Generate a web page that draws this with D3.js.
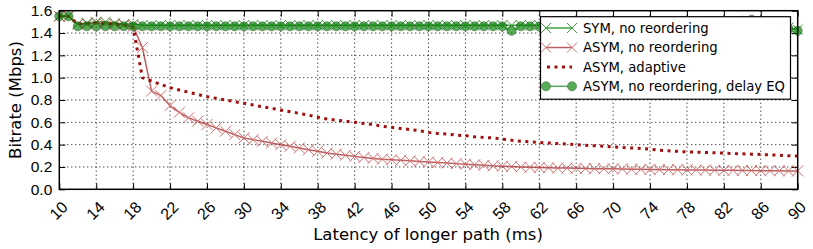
<!DOCTYPE html>
<html>
<head>
<meta charset="utf-8">
<script src="https://cdn.jsdelivr.net/npm/d3@7"></script>
<style>
  body { margin: 0; background: #fff; }
  svg { font-family: "DejaVu Sans", sans-serif; }
</style>
</head>
<body>
<svg id="chart" width="813" height="249"></svg>
<script>
// latency of longer path (ms)
var latency = [10,11,12,13,14,15,16,17,18,19,20,21,22,23,24,25,26,27,28,29,30,31,32,33,34,35,36,37,38,39,
  40,41,42,43,44,45,46,47,48,49,50,51,52,53,54,55,56,57,58,59,60,61,62,63,64,65,66,67,68,69,
  70,71,72,73,74,75,76,77,78,79,80,81,82,83,84,85,86,87,88,89,90];

var symNoReorder = [1.55,1.55,1.48,1.49,1.50,1.50,1.49,1.48,1.48,1.47,
  1.47,1.47,1.47,1.47,1.47,1.47,1.47,1.47,1.47,1.47,
  1.47,1.47,1.47,1.47,1.47,1.47,1.47,1.47,1.47,1.47,
  1.47,1.47,1.47,1.47,1.47,1.47,1.47,1.47,1.47,1.47,
  1.47,1.47,1.47,1.47,1.47,1.47,1.47,1.47,1.47,1.47,
  1.47,1.47,1.47,1.47,1.47,1.47,1.47,1.47,1.47,1.47,
  1.47,1.47,1.47,1.47,1.47,1.47,1.47,1.47,1.47,1.47,
  1.47,1.47,1.47,1.47,1.47,1.47,1.47,1.47,1.47,1.45,1.43];

var asymNoReorder = [1.55,1.55,1.48,1.48,1.49,1.48,1.48,1.47,1.46,1.27,
  0.88,0.84,0.75,0.69,0.64,0.61,0.58,0.55,0.52,0.49,
  0.46,0.445,0.43,0.415,0.40,0.385,0.37,0.355,0.34,0.325,
  0.315,0.305,0.295,0.285,0.277,0.27,0.265,0.26,0.255,0.25,
  0.245,0.24,0.235,0.23,0.225,0.22,0.215,0.21,0.207,0.204,
  0.20,0.197,0.195,0.193,0.19,0.19,0.188,0.186,0.185,0.184,
  0.183,0.182,0.18,0.179,0.178,0.177,0.176,0.175,0.174,0.173,
  0.172,0.171,0.17,0.17,0.169,0.168,0.167,0.167,0.166,0.165,0.165];

var asymAdaptive = [1.55,1.55,1.48,1.48,1.49,1.48,1.48,1.47,1.45,1.00,
  0.97,0.94,0.91,0.89,0.87,0.85,0.83,0.815,0.80,0.785,
  0.77,0.755,0.74,0.725,0.71,0.695,0.68,0.665,0.645,0.63,
  0.62,0.61,0.60,0.59,0.58,0.565,0.555,0.545,0.535,0.525,
  0.51,0.50,0.495,0.485,0.48,0.47,0.465,0.46,0.45,0.44,
  0.43,0.425,0.42,0.415,0.41,0.405,0.40,0.395,0.39,0.385,
  0.38,0.375,0.37,0.365,0.36,0.35,0.345,0.34,0.335,0.333,
  0.33,0.327,0.324,0.32,0.318,0.315,0.312,0.308,0.305,0.30,0.298];

var asymDelayEq = [1.55,1.55,1.46,1.46,1.46,1.46,1.46,1.46,1.46,1.46,
  1.46,1.46,1.46,1.46,1.46,1.46,1.46,1.46,1.46,1.46,
  1.46,1.46,1.46,1.46,1.46,1.46,1.46,1.46,1.46,1.46,
  1.46,1.46,1.46,1.46,1.46,1.46,1.46,1.46,1.46,1.46,
  1.46,1.46,1.46,1.46,1.46,1.46,1.46,1.46,1.46,1.42,
  1.46,1.46,1.46,1.46,1.46,1.46,1.46,1.46,1.46,1.46,
  1.46,1.46,1.46,1.46,1.46,1.46,1.46,1.46,1.46,1.46,
  1.46,1.46,1.46,1.46,1.51,1.52,1.51,1.46,1.46,1.44,1.42];

var xTicks = [10,14,18,22,26,30,34,38,42,46,50,54,58,62,66,70,74,78,82,86,90];
var yTicks = [0.0,0.2,0.4,0.6,0.8,1.0,1.2,1.4,1.6];

var seriesNames = ["SYM, no reordering", "ASYM, no reordering", "ASYM, adaptive", "ASYM, no reordering, delay EQ"];

var svg = d3.select("#chart");
var pL = 59.3, pR = 797.7, pT = 10.7, pB = 189.3;

var x = d3.scaleLinear().domain([10, 90]).range([pL, pR]);
var y = d3.scaleLinear().domain([0, 1.6]).range([pB, pT]);

// grid
var grid = svg.append("g");
grid.selectAll(".gx").data(xTicks.slice(1, -1)).enter().append("line")
  .attr("x1", d => x(d)).attr("x2", d => x(d))
  .attr("y1", pT).attr("y2", pB)
  .attr("stroke", "#000").attr("stroke-width", 1).attr("stroke-dasharray", "1,3");
grid.selectAll(".gy").data(yTicks.slice(1, -1)).enter().append("line")
  .attr("x1", pL).attr("x2", pR)
  .attr("y1", d => y(d)).attr("y2", d => y(d))
  .attr("stroke", "#000").attr("stroke-width", 1).attr("stroke-dasharray", "1,3");

// axes with inward ticks
var xAxis = svg.append("g").attr("transform", "translate(0," + pB + ")")
  .call(d3.axisBottom(x).tickValues(xTicks).tickSize(-6).tickFormat(d3.format("d")));
xAxis.select(".domain").remove();
xAxis.selectAll("text")
  .attr("font-size", 16).attr("fill", "#000")
  .attr("text-anchor", "end")
  .attr("dy", "0.35em")
  .attr("y", 0).attr("x", 0)
  .attr("transform", "translate(5,15) rotate(-45)");
xAxis.selectAll("line").attr("stroke", "#000").attr("stroke-width", 1);

var xTop = svg.append("g").attr("transform", "translate(0," + pT + ")")
  .call(d3.axisTop(x).tickValues(xTicks).tickSize(-6).tickFormat(""));
xTop.select(".domain").remove();

var yAxis = svg.append("g").attr("transform", "translate(" + pL + ",0)")
  .call(d3.axisLeft(y).tickValues(yTicks).tickSize(-6).tickPadding(7).tickFormat(d3.format(".1f")));
yAxis.select(".domain").remove();
yAxis.selectAll("text").attr("font-size", 15.5).attr("fill", "#000");

var yRight = svg.append("g").attr("transform", "translate(" + pR + ",0)")
  .call(d3.axisRight(y).tickValues(yTicks).tickSize(-6).tickFormat(""));
yRight.select(".domain").remove();

// series
var pts = function(vals) { return latency.map((d, i) => [d, vals[i]]); };
var line = d3.line().x(d => x(d[0])).y(d => y(d[1]));
var plot = svg.append("g");

function xMarks(g, data, color, r) {
  g.selectAll(null).data(data).enter().append("path")
    .attr("d", d => {
      var cx = x(d[0]), cy = y(d[1]);
      return "M" + (cx - r) + "," + (cy - r) + "L" + (cx + r) + "," + (cy + r) +
             "M" + (cx - r) + "," + (cy + r) + "L" + (cx + r) + "," + (cy - r);
    })
    .attr("stroke", color).attr("stroke-width", 1).attr("fill", "none");
}

var gSym = plot.append("g").attr("opacity", 0.75);
gSym.append("path").datum(pts(symNoReorder)).attr("d", line)
  .attr("fill", "none").attr("stroke", "#008000").attr("stroke-width", 1.5);
xMarks(gSym, pts(symNoReorder), "#008000", 5);

var gAsym = plot.append("g").attr("opacity", 0.75);
gAsym.append("path").datum(pts(asymNoReorder)).attr("d", line)
  .attr("fill", "none").attr("stroke", "#a82a2a").attr("stroke-width", 1.5);
xMarks(gAsym, pts(asymNoReorder), "#c84040", 5.5);

plot.append("path").datum(pts(asymAdaptive)).attr("d", line)
  .attr("fill", "none").attr("stroke", "#a01010").attr("stroke-width", 3)
  .attr("stroke-dasharray", "3,4.5");

var gEq = plot.append("g").attr("opacity", 0.65);
gEq.append("path").datum(pts(asymDelayEq)).attr("d", line)
  .attr("fill", "none").attr("stroke", "#008000").attr("stroke-width", 1.5);
gEq.selectAll("circle").data(pts(asymDelayEq)).enter().append("circle")
  .attr("cx", d => x(d[0])).attr("cy", d => y(d[1])).attr("r", 4.5)
  .attr("fill", "#008000").attr("stroke", "#004000").attr("stroke-width", 0.8);

// frame
svg.append("rect").attr("x", pL).attr("y", pT)
  .attr("width", pR - pL).attr("height", pB - pT)
  .attr("fill", "none").attr("stroke", "#000").attr("stroke-width", 1.5);

// legend
var lg = svg.append("g");
lg.append("rect").attr("x", 540.5).attr("y", 16.7).attr("width", 250).attr("height", 82.5)
  .attr("fill", "#fff").attr("stroke", "#000").attr("stroke-width", 1.2);
var rowY = [28, 47.5, 67, 86.3];
var lx1 = 546, lx2 = 572;
seriesNames.forEach(function(name, i) {
  var ry = rowY[i];
  if (i === 0 || i === 1) {
    var col = i === 0 ? "#008000" : "#c84040";
    var gg = lg.append("g").attr("opacity", 0.75);
    gg.append("line").attr("x1", lx1).attr("x2", lx2).attr("y1", ry).attr("y2", ry)
      .attr("stroke", i === 0 ? "#008000" : "#a82a2a").attr("stroke-width", 1.5);
    xMarks(gg, [[x.invert(lx1), y.invert(ry)], [x.invert(lx2), y.invert(ry)]], col, 5);
  } else if (i === 2) {
    lg.append("line").attr("x1", lx1 + 1).attr("x2", lx2).attr("y1", ry).attr("y2", ry)
      .attr("stroke", "#a01010").attr("stroke-width", 3).attr("stroke-dasharray", "3,4.5");
  } else {
    var ge = lg.append("g").attr("opacity", 0.65);
    ge.append("line").attr("x1", lx1).attr("x2", lx2).attr("y1", ry).attr("y2", ry)
      .attr("stroke", "#008000").attr("stroke-width", 1.5);
    [lx1, lx2].forEach(function(cx) {
      ge.append("circle").attr("cx", cx).attr("cy", ry).attr("r", 4.5)
        .attr("fill", "#008000").attr("stroke", "#004000").attr("stroke-width", 0.8);
    });
  }
  lg.append("text").attr("x", 583).attr("y", ry).attr("dy", "0.35em")
    .attr("font-size", 13.2).text(name);
});

// axis titles
svg.append("text").attr("x", 428).attr("y", 240).attr("text-anchor", "middle")
  .attr("font-size", 16.5).text("Latency of longer path (ms)");
svg.append("text").attr("transform", "translate(15," + ((pT + pB) / 2) + ") rotate(-90)")
  .attr("text-anchor", "middle").attr("dy", "0.35em")
  .attr("font-size", 16.5).text("Bitrate (Mbps)");
</script>
</body>
</html>
